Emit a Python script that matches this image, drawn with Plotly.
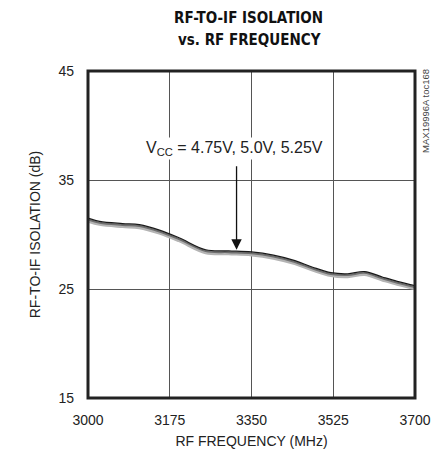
import plotly.graph_objects as go

freq = [3000, 3025, 3074, 3110, 3153, 3195, 3252, 3301, 3350, 3397, 3443, 3481, 3520, 3556, 3592, 3630, 3662, 3700]
iso_525 = [31.5, 31.2, 31.0, 30.9, 30.4, 29.7, 28.6, 28.5, 28.4, 28.1, 27.6, 27.0, 26.5, 26.4, 26.6, 26.1, 25.7, 25.3]
iso_500 = [v - 0.12 for v in iso_525]
iso_475 = [v - 0.25 for v in iso_525]

x_ticks = [3000, 3175, 3350, 3525, 3700]
y_ticks = [15, 25, 35, 45]

font = "Liberation Sans, Arial, sans-serif"
tfont = "DejaVu Sans Condensed, Liberation Sans, Arial, sans-serif"

fig = go.Figure()
fig.add_trace(go.Scatter(x=freq, y=iso_475, mode="lines", line=dict(color="#b4b4b4", width=3.5, shape="spline"), showlegend=False))
fig.add_trace(go.Scatter(x=freq, y=iso_500, mode="lines", line=dict(color="#6e6e6e", width=2, shape="spline"), showlegend=False))
fig.add_trace(go.Scatter(x=freq, y=iso_525, mode="lines", line=dict(color="#1a1a1a", width=1.2, shape="spline"), showlegend=False))

fig.update_layout(
    width=443, height=462,
    margin=dict(l=88, r=25, t=71, b=64),
    paper_bgcolor="white", plot_bgcolor="white",
    font=dict(family=font, size=14, color="#222"),
    xaxis=dict(range=[3000, 3700], tickvals=x_ticks, ticks="", showgrid=True, gridcolor="#555", gridwidth=1,
               zeroline=False, showline=False, ticklabelstandoff=12,
               title=dict(text="RF FREQUENCY (MHz)", standoff=9, font=dict(size=14)),
               tickfont=dict(size=14)),
    yaxis=dict(range=[15, 45], tickvals=y_ticks, ticks="", showgrid=True, gridcolor="#555", gridwidth=1,
               zeroline=False, showline=False, ticklabelstandoff=13,
               title=dict(text="RF-TO-IF ISOLATION (dB)", standoff=14, font=dict(size=14)),
               tickfont=dict(size=14)),
    shapes=[dict(type="rect", xref="paper", yref="paper", x0=0, x1=1, y0=0, y1=1,
                 line=dict(color="#222", width=3), layer="above")],
    annotations=[
        dict(x=0.5, y=18.5, xref="paper", yref="paper", showarrow=False, xanchor="center", yanchor="middle",
             text="<b>RF-TO-IF ISOLATION</b>", font=dict(family=tfont, size=15, color="#111")),
        dict(x=0.5, y=40, xref="paper", yref="paper", showarrow=False, xanchor="center", yanchor="middle",
             text="<b>vs. RF FREQUENCY</b>", font=dict(family=tfont, size=15, color="#111")),
        dict(x=3318, y=28.6, ax=3318, ay=36.4, xref="x", yref="y", axref="x", ayref="y",
             showarrow=True, arrowhead=2, arrowsize=1.6, arrowwidth=1.3, arrowcolor="#111", text=""),
        dict(x=3314, y=37.9, xref="x", yref="y", showarrow=False, bgcolor="white",
             text="V<sub>CC</sub> = 4.75V, 5.0V, 5.25V", font=dict(size=16, color="#222")),
        dict(x=428, y=111, xref="paper", yref="paper", showarrow=False, textangle=-90,
             xanchor="center", yanchor="middle",
             text="MAX19996A toc168", font=dict(size=9.5, color="#444")),
    ],
)

# convert pixel positions for title / side label into paper coords
pw, ph = 443 - 88 - 25, 462 - 71 - 64
for a in fig.layout.annotations:
    if a.xref == "paper" and a.x > 2:
        a.x = (a.x - 88) / pw
    if a.yref == "paper" and a.y > 2:
        a.y = (398 - a.y) / ph
fig.layout.annotations[0].x = (250 - 88) / pw
fig.layout.annotations[1].x = (251 - 88) / pw

fig.write_html("out.html", config={"displayModeBar": False},
               post_script="document.body.style.margin='0';")
